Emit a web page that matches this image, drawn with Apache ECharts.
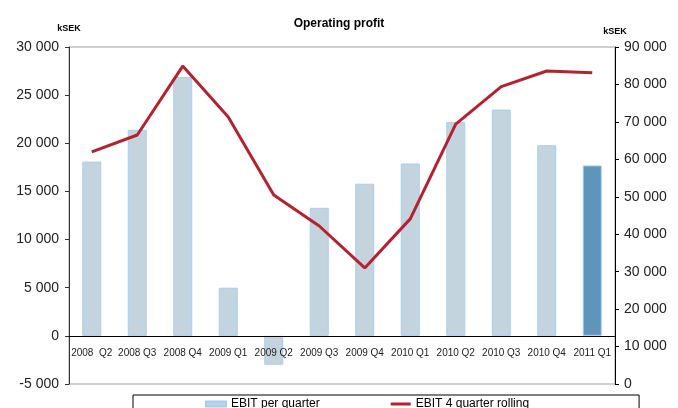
<!DOCTYPE html>
<html>
<head>
<meta charset="utf-8">
<script src="https://cdn.jsdelivr.net/npm/echarts@6/dist/echarts.min.js"></script>
<style>
  html, body { margin: 0; padding: 0; background: #fff; }
  #chart { width: 678px; height: 408px; }
</style>
</head>
<body>
<div id="chart"></div>
<script>
var quarters = ['2008  Q2', '2008 Q3', '2008 Q4', '2009 Q1', '2009 Q2', '2009 Q3',
  '2009 Q4', '2010 Q1', '2010 Q2', '2010 Q3', '2010 Q4', '2011 Q1'];
// EBIT per quarter, kSEK (left axis)
var ebitQuarter = [18100, 21400, 26900, 5000, -3000, 13300, 15800, 17900, 22200, 23500, 19800, 17700];
// EBIT 4 quarter rolling, kSEK (right axis)
var ebitRolling = [62000, 66500, 84900, 71300, 50500, 42200, 31000, 44100, 69400, 79400, 83600, 83100];

function fmt(v) {
  return String(v).replace(/\B(?=(\d{3})+(?!\d))/g, ' ');
}

var chart = echarts.init(document.getElementById('chart'));

var barData = ebitQuarter.map(function (v, i) {
  if (i === ebitQuarter.length - 1) {
    return { value: v, itemStyle: { color: '#5f95ba' } };
  }
  return v;
});

var option = {
  animation: false,
  textStyle: { fontFamily: 'Liberation Sans, Arial, sans-serif' },
  title: {
    text: 'Operating profit',
    left: 'center',
    top: 13,
    textStyle: { fontSize: 12, fontWeight: 'bold', color: '#000' }
  },
  grid: {
    left: 69, right: 63, top: 47, bottom: 24,
    show: true, borderColor: '#a0a0a0', borderWidth: 1
  },
  legend: {
    left: 133,
    top: 395,
    padding: [3, 110, 3, 72],
    itemGap: 71,
    itemWidth: 20,
    itemHeight: 5,
    borderColor: '#000',
    borderWidth: 1,
    textStyle: { fontSize: 12, color: '#000' },
    data: [
      { name: 'EBIT per quarter', icon: 'rect' },
      { name: 'EBIT 4 quarter rolling', icon: 'path://M0,0 L20,0 L20,3 L0,3 Z' }
    ]
  },
  xAxis: {
    type: 'category',
    data: quarters,
    position: 'bottom',
    z: 5,
    // sit the axis on the zero line of the left axis (5000 of 35000 above the bottom)
    offset: -48,
    axisLine: { onZero: false, lineStyle: { color: '#000', width: 1 } },
    axisTick: { inside: true, length: 4, lineStyle: { color: '#333' } },
    axisLabel: { fontSize: 10, color: '#222', margin: 12, interval: 0 }
  },
  yAxis: [
    {
      type: 'value',
      min: -5000, max: 30000, interval: 5000,
      name: 'kSEK',
      nameLocation: 'end',
      nameGap: 14,
      nameTextStyle: { fontSize: 9, fontWeight: 'bold', color: '#000', align: 'center' },
      axisLine: { show: true, lineStyle: { color: '#333' } },
      axisTick: { show: true, length: 4, lineStyle: { color: '#333' } },
      splitLine: { show: false },
      axisLabel: { fontSize: 14, color: '#222', margin: 10, formatter: fmt }
    },
    {
      type: 'value',
      min: 0, max: 90000, interval: 10000,
      name: 'kSEK',
      nameLocation: 'end',
      nameGap: 11,
      nameTextStyle: { fontSize: 9, fontWeight: 'bold', color: '#000', align: 'center' },
      axisLine: { show: true, lineStyle: { color: '#000' } },
      axisTick: { show: true, length: 4, lineStyle: { color: '#000' } },
      splitLine: { show: false },
      axisLabel: { fontSize: 14, color: '#222', margin: 9, formatter: fmt }
    }
  ],
  series: [
    {
      name: 'EBIT per quarter',
      type: 'bar',
      yAxisIndex: 0,
      barWidth: 19,
      itemStyle: { color: '#c4d4de', borderColor: '#a8cdf0', borderWidth: 1 },
      data: barData
    },
    {
      name: 'EBIT 4 quarter rolling',
      type: 'line',
      yAxisIndex: 1,
      z: 6,
      symbol: 'none',
      lineStyle: { color: '#b5212e', width: 3 },
      itemStyle: { color: '#b5212e' },
      data: ebitRolling
    }
  ]
};

chart.setOption(option);
</script>
</body>
</html>
